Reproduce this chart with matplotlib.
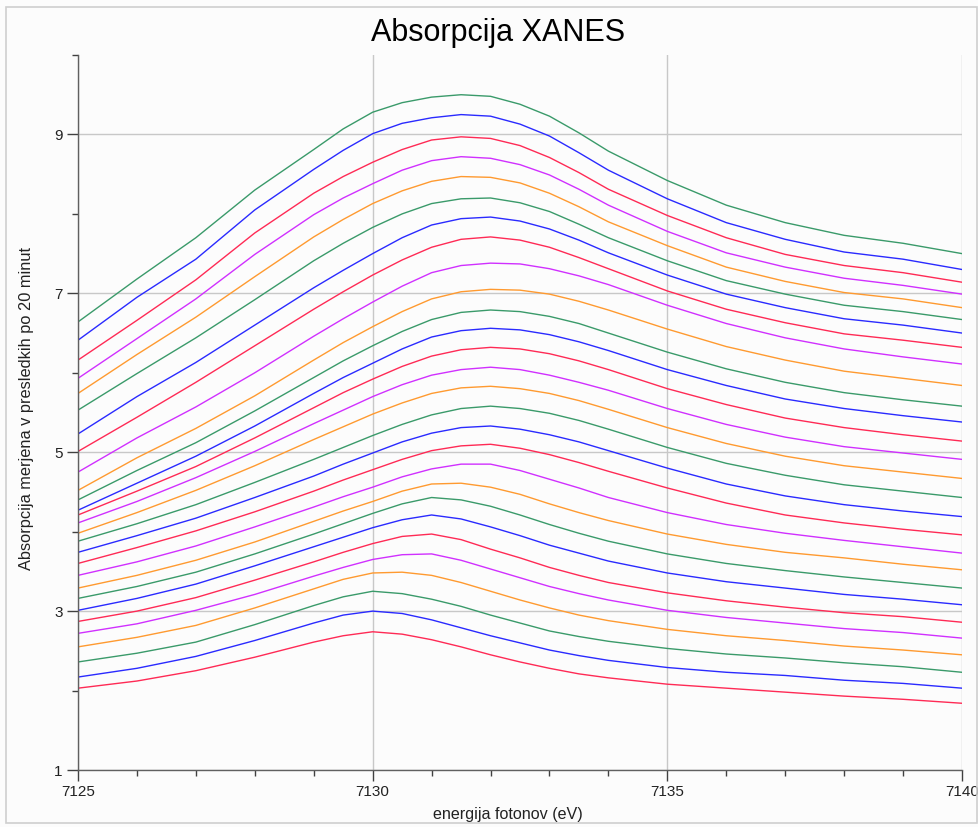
import matplotlib
matplotlib.use("Agg")
import matplotlib.pyplot as plt
from matplotlib.ticker import MultipleLocator
from matplotlib.patches import Rectangle

plt.rcParams['font.family'] = ['Liberation Sans', 'DejaVu Sans']

# photon energy (eV), denser sampling around the peak
energy = [7125, 7126, 7127, 7128, 7129, 7129.5, 7130, 7130.5, 7131, 7131.5, 7132,
          7132.5, 7133, 7133.5, 7134, 7135, 7136, 7137, 7138, 7139, 7140]

# absorption spectra, one every 20 minutes (bottom to top)
c01 = [2.03, 2.12, 2.25, 2.42, 2.61, 2.69, 2.74, 2.71, 2.64, 2.55, 2.45, 2.36, 2.28, 2.21, 2.16, 2.08, 2.03, 1.98, 1.93, 1.89, 1.84]
c02 = [2.17, 2.28, 2.43, 2.63, 2.85, 2.95, 3.00, 2.97, 2.89, 2.79, 2.69, 2.60, 2.51, 2.44, 2.38, 2.29, 2.23, 2.19, 2.13, 2.09, 2.03]
c03 = [2.36, 2.47, 2.61, 2.83, 3.07, 3.18, 3.25, 3.22, 3.15, 3.06, 2.95, 2.85, 2.75, 2.68, 2.62, 2.53, 2.46, 2.41, 2.35, 2.30, 2.23]
c04 = [2.55, 2.67, 2.82, 3.04, 3.28, 3.40, 3.48, 3.49, 3.45, 3.36, 3.25, 3.14, 3.04, 2.95, 2.88, 2.77, 2.69, 2.63, 2.56, 2.51, 2.45]
c05 = [2.72, 2.84, 3.01, 3.21, 3.44, 3.55, 3.65, 3.71, 3.72, 3.64, 3.53, 3.42, 3.31, 3.22, 3.14, 3.01, 2.92, 2.85, 2.78, 2.73, 2.66]
c06 = [2.87, 3.00, 3.17, 3.39, 3.62, 3.74, 3.85, 3.94, 3.97, 3.90, 3.78, 3.67, 3.55, 3.45, 3.36, 3.23, 3.13, 3.05, 2.98, 2.93, 2.86]
c07 = [3.01, 3.16, 3.34, 3.57, 3.81, 3.93, 4.05, 4.15, 4.21, 4.16, 4.06, 3.95, 3.83, 3.73, 3.63, 3.48, 3.37, 3.29, 3.21, 3.15, 3.08]
c08 = [3.16, 3.31, 3.49, 3.72, 3.97, 4.10, 4.23, 4.35, 4.43, 4.40, 4.32, 4.21, 4.09, 3.98, 3.88, 3.72, 3.60, 3.51, 3.43, 3.36, 3.29]
c09 = [3.29, 3.45, 3.64, 3.87, 4.13, 4.26, 4.38, 4.51, 4.60, 4.61, 4.56, 4.47, 4.35, 4.24, 4.14, 3.97, 3.84, 3.74, 3.67, 3.59, 3.52]
c10 = [3.45, 3.62, 3.82, 4.06, 4.31, 4.44, 4.56, 4.69, 4.79, 4.85, 4.85, 4.77, 4.66, 4.55, 4.43, 4.24, 4.09, 3.98, 3.89, 3.81, 3.73]
c11 = [3.60, 3.80, 4.01, 4.25, 4.51, 4.65, 4.78, 4.91, 5.02, 5.08, 5.10, 5.05, 4.97, 4.87, 4.76, 4.55, 4.36, 4.21, 4.11, 4.03, 3.96]
c12 = [3.74, 3.95, 4.17, 4.43, 4.70, 4.85, 4.99, 5.13, 5.24, 5.31, 5.33, 5.29, 5.22, 5.13, 5.02, 4.80, 4.60, 4.45, 4.34, 4.26, 4.19]
c13 = [3.88, 4.10, 4.34, 4.62, 4.91, 5.06, 5.21, 5.35, 5.47, 5.55, 5.58, 5.55, 5.49, 5.40, 5.29, 5.06, 4.86, 4.71, 4.59, 4.51, 4.43]
c14 = [3.98, 4.24, 4.52, 4.83, 5.16, 5.32, 5.48, 5.62, 5.74, 5.81, 5.83, 5.80, 5.74, 5.65, 5.54, 5.31, 5.11, 4.95, 4.83, 4.75, 4.67]
c15 = [4.11, 4.38, 4.68, 5.01, 5.36, 5.53, 5.70, 5.85, 5.97, 6.04, 6.07, 6.04, 5.97, 5.88, 5.78, 5.55, 5.35, 5.19, 5.07, 4.99, 4.91]
c16 = [4.21, 4.51, 4.82, 5.18, 5.56, 5.75, 5.92, 6.08, 6.21, 6.29, 6.32, 6.30, 6.24, 6.15, 6.04, 5.80, 5.60, 5.43, 5.31, 5.22, 5.14]
c17 = [4.27, 4.61, 4.95, 5.33, 5.74, 5.94, 6.12, 6.30, 6.45, 6.53, 6.56, 6.54, 6.48, 6.39, 6.28, 6.04, 5.84, 5.67, 5.55, 5.46, 5.38]
c18 = [4.40, 4.77, 5.12, 5.52, 5.94, 6.15, 6.34, 6.52, 6.67, 6.76, 6.79, 6.77, 6.71, 6.62, 6.50, 6.26, 6.05, 5.88, 5.75, 5.66, 5.58]
c19 = [4.52, 4.93, 5.30, 5.71, 6.16, 6.38, 6.58, 6.77, 6.93, 7.02, 7.05, 7.04, 6.99, 6.90, 6.79, 6.55, 6.33, 6.16, 6.02, 5.93, 5.84]
c20 = [4.75, 5.18, 5.57, 6.00, 6.46, 6.68, 6.89, 7.09, 7.26, 7.35, 7.38, 7.37, 7.31, 7.22, 7.11, 6.85, 6.62, 6.44, 6.30, 6.20, 6.11]
c21 = [5.01, 5.44, 5.88, 6.34, 6.80, 7.02, 7.23, 7.42, 7.58, 7.68, 7.71, 7.67, 7.58, 7.45, 7.31, 7.03, 6.80, 6.63, 6.49, 6.41, 6.32]
c22 = [5.23, 5.70, 6.13, 6.60, 7.07, 7.29, 7.50, 7.70, 7.86, 7.94, 7.96, 7.91, 7.81, 7.67, 7.51, 7.23, 6.99, 6.82, 6.68, 6.60, 6.50]
c23 = [5.53, 5.99, 6.44, 6.92, 7.41, 7.63, 7.83, 8.00, 8.13, 8.19, 8.20, 8.14, 8.03, 7.87, 7.70, 7.41, 7.16, 6.99, 6.85, 6.77, 6.67]
c24 = [5.74, 6.23, 6.70, 7.21, 7.71, 7.93, 8.13, 8.29, 8.41, 8.47, 8.46, 8.39, 8.26, 8.09, 7.90, 7.60, 7.33, 7.15, 7.01, 6.93, 6.82]
c25 = [5.93, 6.43, 6.93, 7.49, 7.99, 8.20, 8.38, 8.55, 8.67, 8.72, 8.70, 8.62, 8.49, 8.31, 8.11, 7.78, 7.51, 7.33, 7.19, 7.10, 6.99]
c26 = [6.16, 6.66, 7.17, 7.76, 8.26, 8.47, 8.65, 8.81, 8.93, 8.97, 8.95, 8.86, 8.71, 8.52, 8.31, 7.98, 7.70, 7.49, 7.35, 7.26, 7.14]
c27 = [6.41, 6.95, 7.43, 8.05, 8.56, 8.80, 9.01, 9.14, 9.21, 9.25, 9.23, 9.13, 8.98, 8.77, 8.55, 8.19, 7.89, 7.68, 7.52, 7.43, 7.30]
c28 = [6.64, 7.18, 7.70, 8.30, 8.81, 9.07, 9.28, 9.40, 9.47, 9.50, 9.48, 9.38, 9.23, 9.02, 8.79, 8.42, 8.11, 7.89, 7.73, 7.63, 7.50]

spectra = [c01, c02, c03, c04, c05, c06, c07, c08, c09, c10, c11, c12, c13, c14,
           c15, c16, c17, c18, c19, c20, c21, c22, c23, c24, c25, c26, c27, c28]
colors = ['#ff2a55', '#2a2aff', '#3a9a6a', '#ff9a30', '#d030ff']

fig = plt.figure(figsize=(9.79, 8.27), dpi=100)
fig.patch.set_facecolor('#fcfcfc')
fig.patches.append(Rectangle((6 / 979, 4 / 827), 971 / 979, 816 / 827, transform=fig.transFigure,
                             fill=False, edgecolor='#cfcfcf', linewidth=1.2))

ax = fig.add_axes([78 / 979, 57 / 827, 884 / 979, 715 / 827])
ax.set_facecolor('#fcfcfc')

for i, s in enumerate(spectra):
    ax.plot(energy, s, color=colors[i % 5], linewidth=1.0)

ax.set_xlim(7125, 7140)
ax.set_ylim(1, 10)
ax.xaxis.set_major_locator(MultipleLocator(5))
ax.xaxis.set_minor_locator(MultipleLocator(1))
ax.set_yticks([1, 3, 5, 7, 9])
ax.set_yticks([2, 4, 6, 8, 10], minor=True)
ax.grid(True, which='major', color='#c8c8c8', linewidth=1.0)
ax.set_axisbelow(True)

for side in ['top', 'right']:
    ax.spines[side].set_visible(False)
for side in ['left', 'bottom']:
    ax.spines[side].set_color('#606060')
    ax.spines[side].set_linewidth(1.0)

ax.tick_params(which='major', length=8, width=1.0, color='#404040', labelsize=11, labelcolor='#222222', pad=3)
ax.tick_params(which='minor', length=4.5, width=1.0, color='#404040')

fig.text(498 / 979, 1 - 33 / 827, 'Absorpcija XANES', ha='center', va='center', fontsize=22)
fig.text(508 / 979, 1 - 815 / 827, 'energija fotonov (eV)', ha='center', va='center', fontsize=11.6, color='#222222')
fig.text(27 / 979, 1 - 408 / 827, 'Absorpcija merjena v presledkih po 20 minut', ha='center', va='center',
         rotation=90, fontsize=11.8, color='#222222')

fig.savefig('out.png', dpi=100, facecolor=fig.get_facecolor())
